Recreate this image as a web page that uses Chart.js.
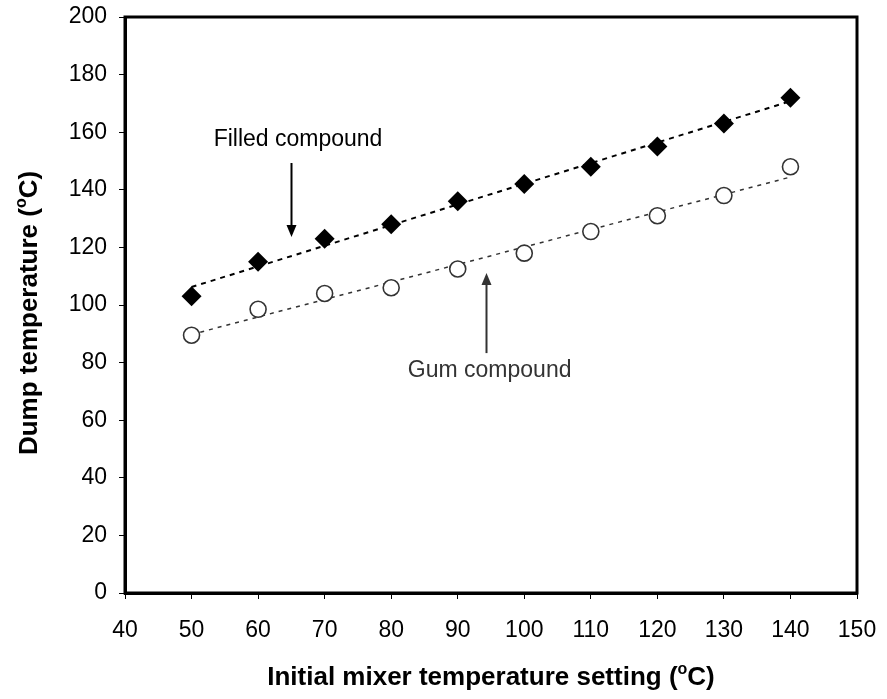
<!DOCTYPE html>
<html>
<head>
<meta charset="utf-8">
<script src="https://cdn.jsdelivr.net/npm/chart.js@4"></script>
<style>
  html, body { margin: 0; padding: 0; background: #fff; }
  #wrap { width: 887px; height: 699px; }
</style>
</head>
<body>
<div id="wrap"><canvas id="chart" width="887" height="699"></canvas></div>
<script>
(function () {
    'use strict';

    // data
    var mixerTemps = [50, 60, 70, 80, 90, 100, 110, 120, 130, 140];
    var filledDump = [103, 115, 123, 128, 136, 142, 148, 155, 163, 172];
    var gumDump = [89.5, 98.5, 104, 106, 112.5, 118, 125.5, 131, 138, 148];

    var xTicks = [40, 50, 60, 70, 80, 90, 100, 110, 120, 130, 140, 150];
    var yTicks = [0, 20, 40, 60, 80, 100, 120, 140, 160, 180, 200];

    var font = 'Liberation Sans, Arial, sans-serif';
    Chart.defaults.font.family = font;
    Chart.defaults.color = '#000';

    // least-squares trendline, like the spreadsheet's linear trend
    function trend(xs, ys) {
        var n = xs.length, mx = 0, my = 0, sxy = 0, sxx = 0;
        xs.forEach(function (x, i) { mx += x / n; my += ys[i] / n; });
        xs.forEach(function (x, i) { sxy += (x - mx) * (ys[i] - my); sxx += (x - mx) * (x - mx); });
        var b = sxy / sxx, a = my - b * mx;
        var x0 = xs[0], x1 = xs[n - 1];
        return [{ x: x0, y: a + b * x0 }, { x: x1, y: a + b * x1 }];
    }

    function pts(ys) {
        return mixerTemps.map(function (x, i) { return { x: x, y: ys[i] }; });
    }

    var decor = {
        id: 'decor',
        afterDraw: function (chart) {
            var ctx = chart.ctx, a = chart.chartArea;
            var xs = chart.scales.x, ys = chart.scales.y;
            ctx.save();
            // plot frame
            ctx.strokeStyle = '#000';
            ctx.lineWidth = 3;
            ctx.strokeRect(a.left, a.top, a.right - a.left, a.bottom - a.top);

            function arrow(x, y0, y1, color, w) {
                ctx.strokeStyle = color;
                ctx.fillStyle = color;
                ctx.lineWidth = w;
                var d = y1 > y0 ? -1 : 1;
                ctx.beginPath();
                ctx.moveTo(x, y0);
                ctx.lineTo(x, y1 + d * 8);
                ctx.stroke();
                ctx.beginPath();
                ctx.moveTo(x, y1);
                ctx.lineTo(x - 5, y1 + d * 12);
                ctx.lineTo(x + 5, y1 + d * 12);
                ctx.closePath();
                ctx.fill();
            }

            ctx.font = '23px ' + font;
            ctx.textAlign = 'center';
            ctx.textBaseline = 'alphabetic';
            ctx.fillStyle = '#000';
            ctx.fillText('Filled compound', xs.getPixelForValue(66), ys.getPixelForValue(155.2));
            arrow(Math.round(xs.getPixelForValue(65)) + 0.5, ys.getPixelForValue(149.3), ys.getPixelForValue(123.6), '#000', 2);

            ctx.fillStyle = '#333';
            ctx.fillText('Gum compound', xs.getPixelForValue(94.8), ys.getPixelForValue(75));
            arrow(Math.round(xs.getPixelForValue(94.2)) + 0.5, ys.getPixelForValue(83.3), ys.getPixelForValue(111.1), '#333', 2);

            // axis titles with superscript degree
            function title(parts, cx, cy, rot) {
                ctx.save();
                ctx.translate(cx, cy);
                ctx.rotate(rot);
                ctx.fillStyle = '#000';
                ctx.textBaseline = 'alphabetic';
                ctx.textAlign = 'left';
                var big = 'bold 26px ' + font, small = 'bold 16px ' + font;
                var w = 0;
                parts.forEach(function (p) { ctx.font = p[1] ? small : big; w += ctx.measureText(p[0]).width; });
                var x = -w / 2;
                parts.forEach(function (p) {
                    ctx.font = p[1] ? small : big;
                    ctx.fillText(p[0], x, p[1] ? -11 : 0);
                    x += ctx.measureText(p[0]).width;
                });
                ctx.restore();
            }
            title([['Initial mixer temperature setting ('], ['o', true], ['C)']], (a.left + a.right) / 2, 685, 0);
            title([['Dump temperature ('], ['o', true], ['C)']], 37, 313, -Math.PI / 2);
            ctx.restore();
        }
    };

    new Chart(document.getElementById('chart'), {
        type: 'scatter',
        data: {
            datasets: [
                {
                    label: 'Filled compound',
                    data: pts(filledDump),
                    pointStyle: 'rectRot',
                    pointRadius: 10,
                    backgroundColor: '#000',
                    borderColor: '#000',
                    borderWidth: 0,
                    order: 1,
                },
                {
                    label: 'Gum compound',
                    data: pts(gumDump),
                    pointStyle: 'circle',
                    pointRadius: 8,
                    backgroundColor: '#fff',
                    borderColor: '#333',
                    borderWidth: 1.6,
                    order: 2,
                },
                {
                    label: 'Filled trend',
                    data: trend(mixerTemps, filledDump),
                    showLine: true,
                    pointRadius: 0,
                    borderColor: '#000',
                    borderWidth: 2,
                    borderDash: [5, 5],
                    order: 3,
                },
                {
                    label: 'Gum trend',
                    data: trend(mixerTemps, gumDump),
                    showLine: true,
                    pointRadius: 0,
                    borderColor: '#333',
                    borderWidth: 1.5,
                    borderDash: [4, 5],
                    order: 4,
                },
            ],
        },
        options: {
            responsive: false,
            animation: false,
            layout: { padding: { top: 17, right: 30, left: 0, bottom: 0 } },
            plugins: { legend: { display: false }, tooltip: { enabled: false } },
            scales: {
                x: {
                    type: 'linear',
                    min: 40,
                    max: 150,
                    afterBuildTicks: function (s) { s.ticks = xTicks.map(function (v) { return { value: v }; }); },
                    afterFit: function (s) { s.height = 106; s.paddingLeft = 0; s.paddingRight = 0; },
                    grid: { drawOnChartArea: false, tickLength: 6, color: '#000', lineWidth: 1 },
                    border: { display: true, color: '#000', width: 3 },
                    ticks: { font: { size: 23 }, padding: 18, color: '#000' },
                },
                y: {
                    type: 'linear',
                    min: 0,
                    max: 200,
                    afterBuildTicks: function (s) { s.ticks = yTicks.map(function (v) { return { value: v }; }); },
                    afterFit: function (s) { s.width = 125; s.paddingTop = 0; s.paddingBottom = 0; },
                    grid: { drawOnChartArea: false, tickLength: 6, color: '#000', lineWidth: 1 },
                    border: { display: true, color: '#000', width: 3 },
                    ticks: { font: { size: 23 }, padding: 12, color: '#000' },
                },
            },
        },
        plugins: [decor],
    });
})();
</script>
</body>
</html>
